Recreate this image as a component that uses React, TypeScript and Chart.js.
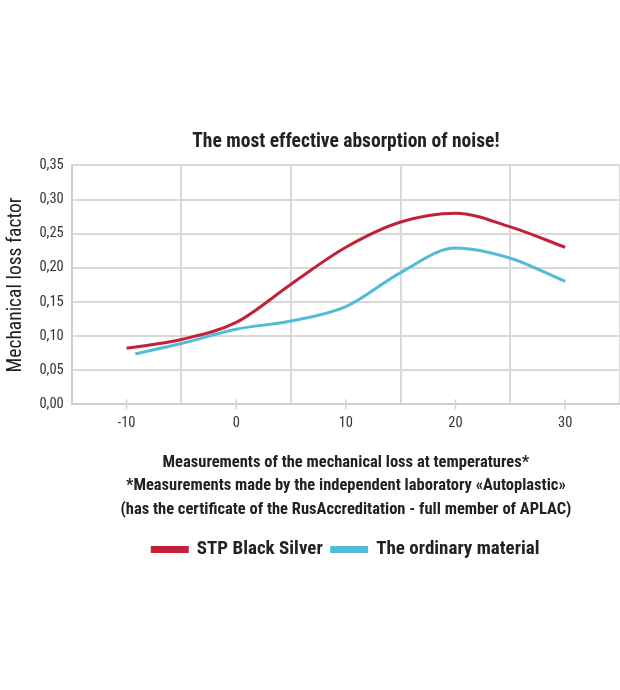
import { useEffect, useRef } from "react";
import Chart from "chart.js/auto";

// values
const redTemps = [-10, -5, 0, 5, 10, 15, 20, 25, 30];
const redLoss = [0.082, 0.095, 0.12, 0.176, 0.23, 0.267, 0.28, 0.26, 0.23];
const blueTemps = [-9.2, -5, 0, 5, 10, 15, 20, 25, 30];
const blueLoss = [0.074, 0.089, 0.11, 0.122, 0.143, 0.193, 0.229, 0.214, 0.18];
const seriesNames = ["STP Black Silver", "The ordinary material"];
const labelledTemps = [-10, 0, 10, 20, 30];
const xTitleLines = [
  "Measurements of the mechanical loss at temperatures*",
  "*Measurements made by the independent laboratory «Autoplastic»",
  "(has the certificate of the RusAccreditation - full member of APLAC)",
];

const FONT = "'Roboto Condensed', 'DejaVu Sans', 'Liberation Sans', sans-serif";
const RED = "#c0223a";
const BLUE = "#52bcd8";
const GRID = "#d9d9d9";

// little tick marks crossing the x axis at the labelled temperatures
const crossTicks = {
  id: "crossTicks",
  afterDraw(chart: any) {
    const { ctx, scales, chartArea } = chart;
    ctx.save();
    ctx.strokeStyle = "#d4d4d4";
    ctx.lineWidth = 1.5;
    for (const v of labelledTemps) {
      const x = scales.x.getPixelForValue(v);
      ctx.beginPath();
      ctx.moveTo(x, chartArea.bottom - 5);
      ctx.lineTo(x, chartArea.bottom + 5);
      ctx.stroke();
    }
    ctx.restore();
  },
};

export default function App() {
  const ref = useRef<HTMLCanvasElement | null>(null);

  useEffect(() => {
    if (!ref.current) return;
    const chart = new Chart(ref.current, {
      type: "line",
      data: {
        datasets: [
          {
            label: seriesNames[0],
            data: redTemps.map((t, i) => ({ x: t, y: redLoss[i] })),
            borderColor: RED,
            backgroundColor: RED,
            borderWidth: 3,
            pointRadius: 0,
            cubicInterpolationMode: "monotone",
          },
          {
            label: seriesNames[1],
            data: blueTemps.map((t, i) => ({ x: t, y: blueLoss[i] })),
            borderColor: BLUE,
            backgroundColor: BLUE,
            borderWidth: 3,
            pointRadius: 0,
            cubicInterpolationMode: "monotone",
          },
        ],
      },
      plugins: [crossTicks],
      options: {
        animation: false,
        responsive: true,
        maintainAspectRatio: false,
        layout: { padding: { top: 130, bottom: 121, left: 4, right: 0 } },
        plugins: {
          title: {
            display: true,
            fullSize: false,
            text: "The most effective absorption of noise!",
            color: "#222",
            font: { family: FONT, size: 19.5, weight: "bold condensed" as any },
            padding: { top: 0, bottom: 12 },
          },
          legend: {
            position: "bottom",
            fullSize: false,
            labels: {
              boxWidth: 35,
              boxHeight: 4,
              color: "#222",
              padding: 9,
              font: { family: FONT, size: 19, weight: "bold condensed" as any },
            },
          },
          tooltip: { enabled: false },
        },
        scales: {
          x: {
            type: "linear",
            min: -15,
            max: 35,
            afterBuildTicks: (axis: any) => {
              const t = [];
              for (let v = -15; v <= 35; v += 5) t.push({ value: v });
              axis.ticks = t;
            },
            ticks: {
              color: "#333",
              padding: 0,
              font: { family: FONT, size: 14.5, weight: "condensed" as any },
              callback: (v: any) => (labelledTemps.includes(Number(v)) ? String(v) : ""),
              maxRotation: 0,
              autoSkip: false,
            },
            grid: {
              color: (ctx: any) => (ctx.tick && Math.abs(ctx.tick.value % 10) === 5 ? GRID : "rgba(0,0,0,0)"),
              tickColor: "rgba(0,0,0,0)",
              tickLength: 10,
              lineWidth: 2,
            },
            border: { color: "#cfcfcf", width: 2 },
            title: {
              display: true,
              text: xTitleLines,
              color: "#222",
              font: { family: FONT, size: 16.5, weight: "bold condensed" as any, lineHeight: 1.4 },
              padding: { top: 20, bottom: 10 },
            },
          },
          y: {
            min: 0,
            max: 0.35,
            ticks: {
              stepSize: 0.05,
              color: "#333",
              padding: 8,
              font: { family: FONT, size: 14.5, weight: "condensed" as any },
              callback: (v: any) => Number(v).toFixed(2).replace(".", ","),
            },
            grid: { color: GRID, lineWidth: 2, drawTicks: false },
            border: { color: "#cfcfcf", width: 2 },
            title: {
              display: true,
              text: "Mechanical loss factor",
              color: "#222",
              font: { family: FONT, size: 19.5, weight: "condensed" as any },
              padding: { top: 0, bottom: 4 },
            },
          },
        },
      },
    });
    return () => chart.destroy();
  }, []);

  return (
    <div style={{ position: "fixed", left: 0, top: 0, width: 620, height: 690, background: "#fff" }}>
      <canvas ref={ref}></canvas>
    </div>
  );
}
